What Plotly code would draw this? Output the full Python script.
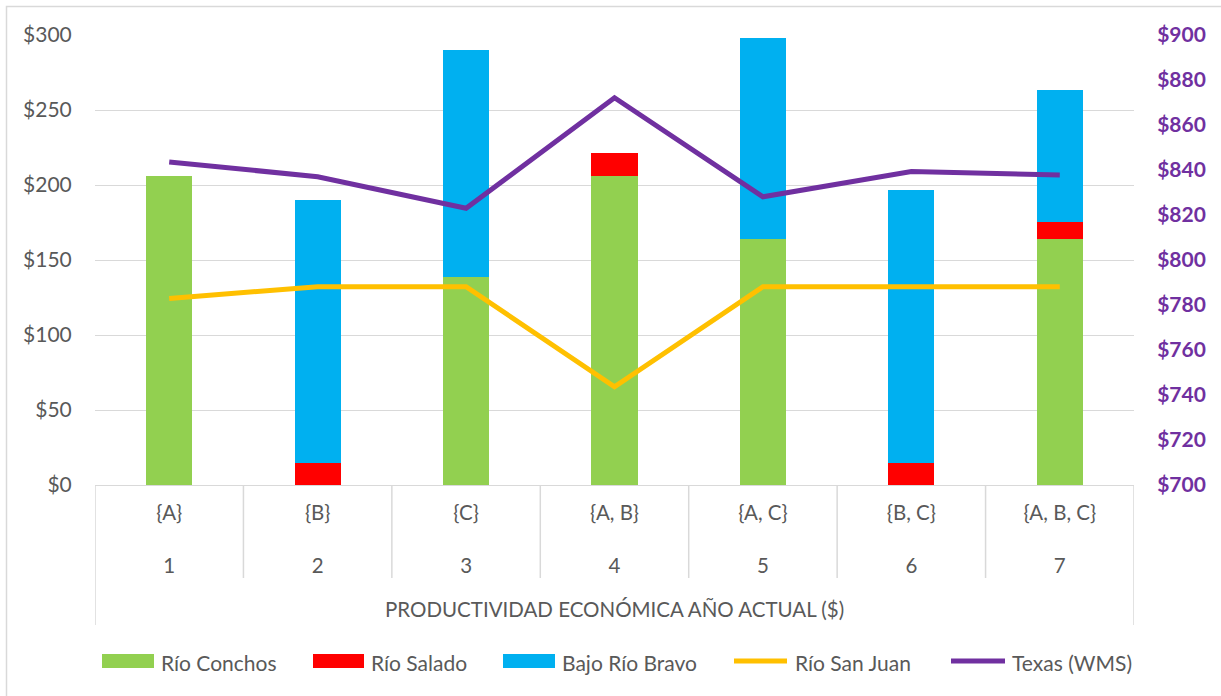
import plotly.graph_objects as go

# Category labels (two rows under the axis) and axis caption
coalitions = ["{A}", "{B}", "{C}", "{A, B}", "{A, C}", "{B, C}", "{A, B, C}"]
scenario_ids = ["1", "2", "3", "4", "5", "6", "7"]
axis_caption = "PRODUCTIVIDAD ECONÓMICA AÑO ACTUAL ($)"

# Stacked bar series (left axis, $)
rio_conchos = [206.0, None, 138.7, 206.0, 164.0, None, 164.0]
rio_salado = [None, 14.5, None, 15.3, None, 14.5, 11.5]
bajo_rio_bravo = [None, 175.5, 151.3, None, 134.2, 182.0, 88.0]

# Line series
rio_san_juan = [124.4, 132.2, 132.2, 65.5, 132.2, 132.2, 132.2]   # left axis
texas_wms = [843.6, 837.0, 823.0, 872.1, 828.1, 839.3, 837.8]     # right axis

# Colours
GREEN, RED, BLUE = "#92D050", "#FF0000", "#00B0F0"
GOLD, PURPLE = "#FFC000", "#7030A0"
GRID, TEXT = "#D9D9D9", "#595959"
FONT = "Lato"

# Canvas and plot-area geometry (pixels)
W, H = 1221, 696
L, R, T, B = 95, 1134, 35, 485


def px_x(px):
    return (px - L) / (R - L)


def px_y(py):
    return (B - py) / (B - T)


fig = go.Figure()

for name, vals, col in [("Río Conchos", rio_conchos, GREEN),
                        ("Río Salado", rio_salado, RED),
                        ("Bajo Río Bravo", bajo_rio_bravo, BLUE)]:
    fig.add_trace(go.Bar(x=coalitions, y=vals, name=name, marker_color=col,
                         marker_line_width=0, showlegend=False))

fig.add_trace(go.Scatter(x=coalitions, y=rio_san_juan, name="Río San Juan",
                         mode="lines", line=dict(color=GOLD, width=5),
                         showlegend=False))
fig.add_trace(go.Scatter(x=coalitions, y=texas_wms, name="Texas (WMS)",
                         mode="lines", line=dict(color=PURPLE, width=5),
                         yaxis="y2", showlegend=False))

ticktext = [f"{c}<br><br>{n}" for c, n in zip(coalitions, scenario_ids)]

fig.update_layout(
    width=W, height=H,
    margin=dict(l=L, r=W - R, t=T, b=H - B),
    paper_bgcolor="white", plot_bgcolor="white",
    barmode="stack", bargap=0.69,
    font=dict(family=FONT, size=21, color=TEXT),
    xaxis=dict(type="category", categoryorder="array", categoryarray=coalitions,
               tickvals=coalitions, ticktext=ticktext,
               ticks="outside", ticklen=9, tickcolor="rgba(0,0,0,0)",
               showline=True, linecolor=GRID, linewidth=1,
               showgrid=False, zeroline=False,
               range=[-0.5, len(coalitions) - 0.5],
               tickfont=dict(size=20.5, color=TEXT)),
    yaxis=dict(range=[0, 300], dtick=50, tickprefix="$",
               showgrid=True, gridcolor=GRID, gridwidth=1,
               zeroline=False, showline=False,
               ticks="outside", ticklen=18, tickcolor="rgba(0,0,0,0)",
               tickfont=dict(size=21, color=TEXT)),
    yaxis2=dict(range=[700, 900], dtick=20, tickprefix="$",
                overlaying="y", side="right", showgrid=False,
                zeroline=False, showline=False,
                ticks="outside", ticklen=18, tickcolor="rgba(0,0,0,0)",
                tickfont=dict(size=21, color=PURPLE, family=FONT, weight="bold")),
)

shapes = []
# chart-area frame
shapes.append(dict(type="rect", xref="paper", yref="paper",
                   x0=px_x(6.5), x1=px_x(W + 20), y0=px_y(H + 20), y1=px_y(6.5),
                   line=dict(color=GRID, width=1.5), fillcolor="rgba(0,0,0,0)",
                   layer="below"))
# category separators below the axis
n = len(coalitions)
for i in range(1, n):
    shapes.append(dict(type="line", xref="x", yref="paper",
                       x0=i - 0.5, x1=i - 0.5, y0=px_y(B), y1=px_y(578),
                       line=dict(color=GRID, width=1.5)))
# outer box edges that also enclose the caption row
for xv in (-0.5, n - 0.5):
    shapes.append(dict(type="line", xref="x", yref="paper",
                       x0=xv, x1=xv, y0=px_y(B), y1=px_y(625),
                       line=dict(color=GRID, width=1.5)))

annotations = [dict(text=axis_caption, xref="paper", yref="paper",
                    x=0.5, y=px_y(609), xanchor="center", yanchor="middle",
                    showarrow=False, font=dict(size=20.5, color=TEXT))]

# legend row
leg_y = 661
legend_items = [
    ("Río Conchos", GREEN, "bar", 102, 154, 159),
    ("Río Salado", RED, "bar", 313, 364, 369),
    ("Bajo Río Bravo", BLUE, "bar", 503, 555, 560),
    ("Río San Juan", GOLD, "line", 734, 787, 793),
    ("Texas (WMS)", PURPLE, "line", 951, 1005, 1010),
]
for label, col, kind, x0, x1, xt in legend_items:
    if kind == "bar":
        shapes.append(dict(type="rect", xref="paper", yref="paper",
                           x0=px_x(x0), x1=px_x(x1),
                           y0=px_y(leg_y + 7), y1=px_y(leg_y - 7),
                           fillcolor=col, line=dict(width=0)))
    else:
        shapes.append(dict(type="line", xref="paper", yref="paper",
                           x0=px_x(x0), x1=px_x(x1),
                           y0=px_y(leg_y), y1=px_y(leg_y),
                           line=dict(color=col, width=5)))
    annotations.append(dict(text=label, xref="paper", yref="paper",
                            x=px_x(xt), y=px_y(leg_y + 1), xanchor="left",
                            yanchor="middle", showarrow=False,
                            font=dict(size=21, color=TEXT)))

fig.update_layout(shapes=shapes, annotations=annotations)

fig.write_html("out.html")
